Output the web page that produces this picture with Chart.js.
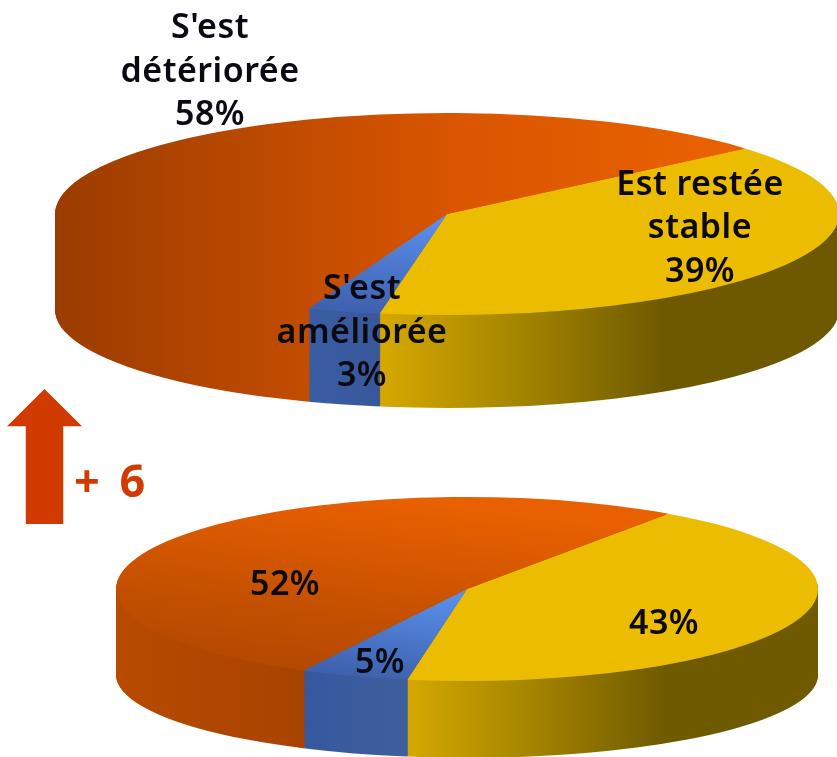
<!DOCTYPE html>
<html lang="fr">
<head>
<meta charset="utf-8">
<title>Évolution</title>
<script src="https://cdn.jsdelivr.net/npm/chart.js@4"></script>
<style>
html,body{margin:0;padding:0;background:#fff;width:837px;height:757px;overflow:hidden}
#stage{position:relative;width:837px;height:757px;overflow:hidden}
canvas{position:absolute;display:block}
#arrow{position:absolute;left:7px;top:389px;width:75px;height:135px;background:#d13a00;
clip-path:polygon(50% 0,100% 27.5%,75% 27.5%,75% 100%,25% 100%,25% 27.5%,0 27.5%)}
#delta{position:absolute;left:74px;top:449px;font:700 45px "Noto Sans",sans-serif;color:#d13a00;line-height:62px;white-space:pre;word-spacing:8px}
</style>
</head>
<body>
<div id="stage">
<canvas id="pieTop" width="784" height="784" style="left:55px;top:-178px"></canvas>
<canvas id="pieBottom" width="702" height="702" style="left:116px;top:238px"></canvas>
<div id="arrow"></div>
<div id="delta">+ 6</div>
</div>
<script>
const categories = ["Est restée stable", "S'est améliorée", "S'est détériorée"];
const valuesTop = [39, 3, 58];
const valuesBottom = [43, 5, 52];
const labelsTop = [["Est restée", "stable", "39%"], ["S'est", "améliorée", "3%"], ["S'est", "détériorée", "58%"]];
const labelsBottom = [["43%"], ["5%"], ["52%"]];
const FONT = '600 34px "Noto Sans", sans-serif';
const INK = '#0b0a12';

function grad(ctx, box, a, b, stops) {
  const toY = y => box.cy + (y - box.pageCy) / box.k;
  const g = ctx.createLinearGradient(a[0] - box.left, toY(a[1]), b[0] - box.left, toY(b[1]));
  stops.forEach(s => g.addColorStop(s[0], s[1]));
  return g;
}

const pie3d = {
  id: 'pie3d',
  beforeDatasetsDraw(chart) {
    const o = chart.options.plugins.pie3d, ctx = chart.ctx, box = o.box;
    const arcs = chart.getDatasetMeta(0).data;
    for (let d = o.depth; d >= 1; d--) {
      ctx.save();
      ctx.translate(0, box.cy + d);
      ctx.scale(1, box.k * (1 - o.taper * d / o.depth));
      ctx.translate(0, -box.cy);
      arcs.forEach((arc, i) => {
        const saved = arc.options;
        arc.options = Object.assign({}, saved, {backgroundColor: o.side[i]});
        arc.draw(ctx);
        arc.options = saved;
      });
      ctx.restore();
    }
  },
  beforeDatasetDraw(chart) {
    const box = chart.options.plugins.pie3d.box, ctx = chart.ctx;
    ctx.save();
    ctx.translate(0, box.cy);
    ctx.scale(1, box.k);
    ctx.translate(0, -box.cy);
  },
  afterDatasetDraw(chart) { chart.ctx.restore(); },
  afterDraw(chart) {
    const o = chart.options.plugins.pie3d, ctx = chart.ctx, box = o.box;
    ctx.save();
    ctx.font = FONT;
    ctx.letterSpacing = '0.5px';
    ctx.fillStyle = INK;
    ctx.textAlign = 'center';
    ctx.textBaseline = 'alphabetic';
    o.labels.forEach((lines, i) => {
      const [x, ys] = o.labelAt[i];
      lines.forEach((t, j) => ctx.fillText(t, x - box.left, ys[j] - box.top));
    });
    ctx.restore();
  }
};

function makePie(id, values, labels, labelAt, geom, rotation, paint) {
  const canvas = document.getElementById(id), ctx = canvas.getContext('2d');
  const box = {left: geom.left, top: geom.top, cy: canvas.height / 2, pageCy: geom.cy, k: geom.ry / (canvas.height / 2)};
  const p = paint(ctx, box);
  return new Chart(canvas, {
    type: 'pie',
    data: {labels: categories, datasets: [{data: values, backgroundColor: p.top, borderWidth: 0, clip: false, rotation}]},
    options: {
      responsive: false, animation: false, events: [],
      layout: {padding: 0},
      plugins: {legend: {display: false}, tooltip: {enabled: false},
        pie3d: {box, depth: geom.depth, taper: geom.taper, side: p.side, labels, labelAt}}
    },
    plugins: [pie3d]
  });
}

const yellowFlat = '#ecbc00';

makePie('pieTop', valuesTop, labelsTop,
  [[700, [195, 238, 282]], [362, [299, 343, 386]], [210, [38, 82, 125]]],
  {left: 55, top: -178, cy: 214, ry: 101, depth: 96, taper: 0.03}, 49.5,
  (ctx, b) => {
    const orange = grad(ctx, b, [55, 0], [700, 0], [[0, '#9a3c00'], [0.38, '#c24c00'], [0.62, '#d95500'], [1, '#e86000']]);
    return {
      top: [yellowFlat, grad(ctx, b, [445, 220], [320, 305], [[0, '#5a90ee'], [1, '#3f62b0']]), orange],
      side: [grad(ctx, b, [380, 0], [665, 0], [[0, '#d6a800'], [0.45, '#a88800'], [1, '#6e5900']]),
             grad(ctx, b, [308, 0], [380, 0], [[0, '#3a5da2'], [1, '#38589a']]), orange]
    };
  });

makePie('pieBottom', valuesBottom, labelsBottom,
  [[664, [634]], [380, [673]], [285, [595]]],
  {left: 116, top: 238, cy: 589, ry: 92, depth: 86, taper: 0.1}, 35,
  (ctx, b) => ({
    top: [yellowFlat,
      grad(ctx, b, [465, 590], [310, 668], [[0, '#5b93f0'], [1, '#3e62ae']]),
      grad(ctx, b, [130, 650], [400, 500], [[0, '#b44900'], [0.35, '#c45000'], [0.8, '#de5b00'], [1, '#e86000']])],
    side: [grad(ctx, b, [406, 0], [665, 0], [[0, '#d6a800'], [0.4, '#ad8b00'], [1, '#6f5a00']]),
           grad(ctx, b, [302, 0], [406, 0], [[0, '#35589f'], [1, '#3f5e9c']]),
           grad(ctx, b, [116, 0], [302, 0], [[0, '#b84b00'], [1, '#a84300']])]
  }));
</script>
</body>
</html>
